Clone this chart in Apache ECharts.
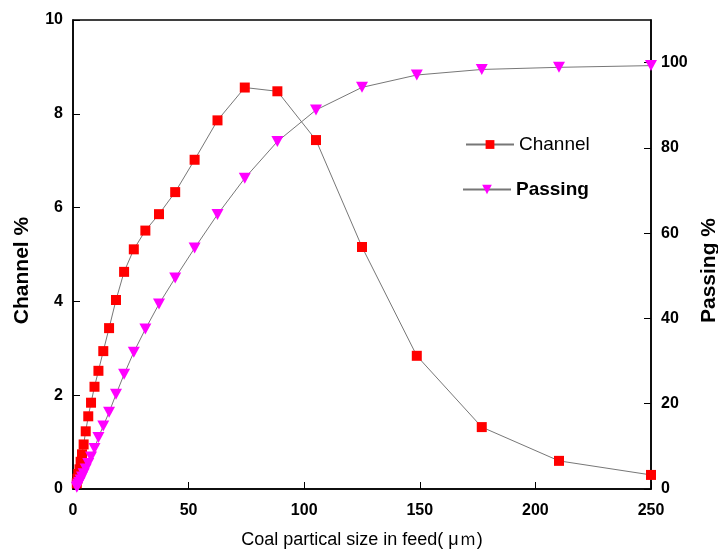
<!DOCTYPE html>
<html>
<head>
<meta charset="utf-8">
<script src="https://cdn.jsdelivr.net/npm/echarts@6/dist/echarts.min.js"></script>
<style>
html,body{margin:0;padding:0;background:#fff;}
#chart{width:718px;height:552px;}
</style>
</head>
<body>
<div id="chart"></div>
<script>
// 粒径 (μm)
var sizes = [1.64, 1.95, 2.3, 2.8, 3.3, 3.9, 4.6, 5.5, 6.6, 7.8, 9.3, 11.0, 13.1, 15.6, 18.6, 22.1, 26.3, 31.3, 37.2, 44.2, 52.6, 62.5, 74.3, 88.4, 105.1, 125, 148.7, 176.8, 210.2, 250];
// Channel %
var channel = [0.12, 0.22, 0.32, 0.42, 0.58, 0.74, 0.95, 1.23, 1.55, 1.84, 2.18, 2.52, 2.94, 3.43, 4.03, 4.63, 5.11, 5.51, 5.86, 6.33, 7.02, 7.86, 8.56, 8.48, 7.44, 5.16, 2.84, 1.32, 0.60, 0.30];
// Passing %
var passing = [0.4, 0.7, 1.1, 1.5, 2.1, 2.8, 3.6, 4.7, 6.0, 7.5, 9.5, 12.1, 14.8, 18.0, 22.2, 26.9, 32.1, 37.5, 43.4, 49.5, 56.5, 64.4, 72.9, 81.5, 88.9, 94.2, 97.1, 98.4, 98.9, 99.3];

function pairs(xs, ys){
	var out = [];
	for (var i = 0; i < xs.length; i++) out.push([xs[i], ys[i]]);
	return out;
}

var font = '"Liberation Sans", Arial, sans-serif';
var labelStyle = {color:'#000', fontFamily:font, fontWeight:'bold', fontSize:16};

var myChart = echarts.init(document.getElementById('chart'));
myChart.setOption({
	animation:false,
	backgroundColor:'#fff',
	grid:{left:73, right:67, top:20, bottom:63, outerBoundsMode:'none', containLabel:false,
		show:true, borderColor:'#000', borderWidth:1.5},
	legend:[
		{left:460, top:130, itemWidth:48, itemHeight:11, data:['Channel'],
		 textStyle:{color:'#000', fontFamily:font, fontSize:19}},
		{left:457, top:175, itemWidth:48, itemHeight:12, data:['Passing'],
		 textStyle:{color:'#000', fontFamily:font, fontSize:19, fontWeight:'bold'}}
	],
	xAxis:{
		type:'value', min:0, max:250, interval:50,
		name:'Coal partical size in feed( μｍ)', nameLocation:'middle', nameGap:42,
		nameTextStyle:{color:'#000', fontFamily:font, fontSize:18},
		axisLine:{lineStyle:{color:'#000', width:1.5}},
		axisTick:{inside:true, length:7, lineStyle:{color:'#000'}},
		axisLabel:Object.assign({margin:14}, labelStyle),
		splitLine:{show:false}
	},
	yAxis:[
		{
			type:'value', min:0, max:10, interval:2,
			name:'Channel %', nameLocation:'middle', nameGap:40,
			nameTextStyle:{color:'#000', fontFamily:font, fontSize:21, fontWeight:'bold', padding:[0, 32, 0, 0]},
			axisLine:{show:true, lineStyle:{color:'#000', width:1.5}},
			axisTick:{show:true, inside:true, length:7, lineStyle:{color:'#000'}},
			axisLabel:Object.assign({margin:10}, labelStyle),
			splitLine:{show:false}
		},
		{
			type:'value', min:0, max:110, interval:20, position:'right',
			name:'Passing %', nameLocation:'middle', nameGap:44,
			nameTextStyle:{color:'#000', fontFamily:font, fontSize:21, fontWeight:'bold', padding:[0, 32, 0, 0]},
			axisLine:{show:true, lineStyle:{color:'#000', width:1.5}},
			axisTick:{show:true, inside:true, length:7, lineStyle:{color:'#000'}},
			axisLabel:Object.assign({margin:10, showMaxLabel:false}, labelStyle),
			splitLine:{show:false}
		}
	],
	series:[
		{
			name:'Channel', type:'line', yAxisIndex:0,
			data:pairs(sizes, channel),
			symbol:'rect', symbolSize:10,
			itemStyle:{color:'#ff0000'},
			lineStyle:{color:'#777', width:1}
		},
		{
			name:'Passing', type:'line', yAxisIndex:1,
			data:pairs(sizes, passing),
			symbol:'triangle', symbolSize:[12, 11], symbolRotate:180,
			itemStyle:{color:'#ff00ff'},
			lineStyle:{color:'#777', width:1}
		}
	]
});
</script>
</body>
</html>
